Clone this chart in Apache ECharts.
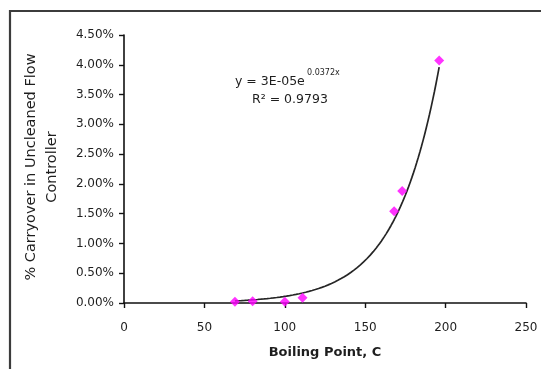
<!DOCTYPE html>
<html>
<head>
<meta charset="utf-8">
<script src="https://cdn.jsdelivr.net/npm/echarts@6/dist/echarts.min.js"></script>
<style>
  html, body { margin: 0; padding: 0; background: #fff; }
  #chart { width: 541px; height: 369px; }
</style>
</head>
<body>
<div id="chart"></div>
<script>
// Measured carryover vs. boiling point
const boilingPointC = [69, 80, 100, 111, 168, 173, 196];
const carryoverFraction = [0.0002, 0.0003, 0.0002, 0.0009, 0.0154, 0.0188, 0.0407];

// Axis ticks
const xTicks = [0, 50, 100, 150, 200, 250];
const yTicks = [0, 0.005, 0.01, 0.015, 0.02, 0.025, 0.03, 0.035, 0.04, 0.045];

// Exponential trendline y = a * e^(k x); the label rounds a to one significant figure
const trendCoefA = 2.7e-5;
const trendCoefK = 0.0372;
const trendRSquared = 0.9793;

const FONT = '"DejaVu Sans", sans-serif';
const TEXT = '#1e1e1e';

// Sample the trend curve across the measured range
const xMin = Math.min.apply(null, boilingPointC);
const xMax = Math.max.apply(null, boilingPointC);
const trendPoints = [];
for (let x = xMin; x <= xMax; x += 1) {
  trendPoints.push([x, trendCoefA * Math.exp(trendCoefK * x)]);
}
if (trendPoints[trendPoints.length - 1][0] !== xMax) {
  trendPoints.push([xMax, trendCoefA * Math.exp(trendCoefK * xMax)]);
}

function sciLabel(v) {
  const exp = Math.floor(Math.log10(v));
  const mant = Math.round(v / Math.pow(10, exp));
  const e = Math.abs(exp);
  return mant + 'E' + (exp < 0 ? '-' : '+') + (e < 10 ? '0' + e : e);
}

const chart = echarts.init(document.getElementById('chart'), null, { renderer: 'canvas' });

chart.setOption({
  animation: false,
  backgroundColor: '#fff',
  grid: { left: 124, right: 15, top: 35, bottom: 66, containLabel: false },
  xAxis: {
    type: 'value',
    min: xTicks[0],
    max: xTicks[xTicks.length - 1],
    interval: xTicks[1] - xTicks[0],
    splitLine: { show: false },
    axisLine: { onZero: false, lineStyle: { color: '#111', width: 1.6 } },
    axisTick: { show: true, inside: false, length: 5, lineStyle: { color: '#111', width: 1.4 } },
    axisLabel: { color: TEXT, fontFamily: FONT, fontSize: 12, margin: 19 },
    name: 'Boiling Point, C',
    nameLocation: 'middle',
    nameGap: 43,
    nameTextStyle: { color: TEXT, fontFamily: FONT, fontSize: 13, fontWeight: 'bold' }
  },
  yAxis: {
    type: 'value',
    min: yTicks[0],
    max: yTicks[yTicks.length - 1],
    interval: 0.005,
    splitLine: { show: false },
    axisLine: { show: true, lineStyle: { color: '#111', width: 1.6 } },
    axisTick: { show: true, inside: false, length: 5, lineStyle: { color: '#111', width: 1.4 } },
    axisLabel: {
      color: TEXT, fontFamily: FONT, fontSize: 12, margin: 10,
      formatter: v => (v * 100).toFixed(2) + '%'
    }
  },
  graphic: [
    {
      type: 'rect', z: -10, silent: true,
      shape: { x: 10, y: 11, width: 700, height: 500 },
      style: { fill: 'none', stroke: '#3c3c3c', lineWidth: 2.2 }
    },
    {
      type: 'text', x: 42, y: 167, rotation: Math.PI / 2, silent: true,
      style: {
        text: '% Carryover in Uncleaned Flow\nController',
        fill: TEXT, font: '14.5px ' + FONT,
        align: 'center', verticalAlign: 'middle', lineHeight: 21
      }
    },
    {
      type: 'text', x: 235, y: 82, silent: true,
      style: {
        text: 'y = ' + sciLabel(trendCoefA) + 'e',
        fill: TEXT, font: '12.5px ' + FONT, align: 'left', verticalAlign: 'middle'
      }
    },
    {
      type: 'text', x: 307, y: 73, silent: true,
      style: {
        text: trendCoefK.toFixed(4) + 'x',
        fill: TEXT, font: '8px ' + FONT, align: 'left', verticalAlign: 'middle'
      }
    },
    {
      type: 'text', x: 252, y: 100, silent: true,
      style: {
        text: 'R\u00B2 = ' + trendRSquared.toFixed(4),
        fill: TEXT, font: '12.5px ' + FONT, align: 'left', verticalAlign: 'middle'
      }
    }
  ],
  series: [
    {
      name: 'Trend',
      type: 'line',
      data: trendPoints,
      showSymbol: false,
      smooth: false,
      lineStyle: { color: '#262626', width: 1.7 },
      z: 2
    },
    {
      name: 'Carryover',
      type: 'scatter',
      data: boilingPointC.map((x, i) => [x, carryoverFraction[i]]),
      symbol: 'diamond',
      symbolSize: 10,
      itemStyle: { color: '#ff00ff' },
      z: 3
    }
  ]
});
</script>
</body>
</html>
